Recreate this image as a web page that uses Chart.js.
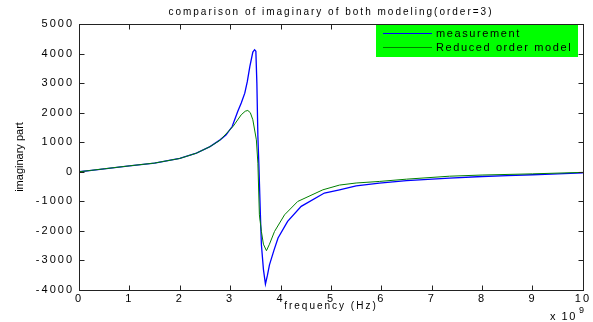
<!DOCTYPE html>
<html>
<head>
<meta charset="utf-8">
<script src="https://cdn.jsdelivr.net/npm/chart.js@4.4.0/dist/chart.umd.min.js"></script>
<style>
  body { margin: 0; background: #fff; }
  #wrap { width: 593px; height: 322px; }
</style>
</head>
<body>
<div id="wrap"><canvas id="myChart" width="593" height="322"></canvas></div>
<script>
// frequency in units of 1e9 Hz (axis shows "x 10^9")
var freqMeas = [0, 0.25, 0.5, 1.0, 1.5, 2.0, 2.33, 2.6, 2.8, 2.92, 3.04, 3.15, 3.22, 3.29, 3.34, 3.39, 3.45, 3.485, 3.51, 3.53, 3.55, 3.57, 3.60, 3.62, 3.66, 3.70, 3.74, 3.78, 3.87, 3.95, 4.14, 4.41, 4.87, 5.17, 5.5, 5.96, 6.5, 7.35, 8.0, 8.5, 9.0, 9.5, 10.0];
var imagMeas = [0, 50, 100, 200, 295, 450, 630, 850, 1080, 1250, 1530, 2040, 2330, 2660, 3050, 3560, 4050, 4130, 4080, 3000, 1200, 240, -1455, -2470, -3300, -3800, -3500, -3150, -2650, -2240, -1680, -1170, -720, -610, -480, -383, -300, -214, -160, -130, -100, -70, -40];

var freqModel = [0, 0.25, 0.5, 1.0, 1.5, 2.0, 2.33, 2.6, 2.8, 3.06, 3.22, 3.30, 3.35, 3.40, 3.45, 3.52, 3.55, 3.58, 3.62, 3.66, 3.72, 3.78, 3.88, 4.08, 4.34, 4.84, 5.17, 5.5, 5.96, 6.5, 7.35, 8.0, 9.0, 10.0];
var imagModel = [0, 50, 100, 200, 295, 450, 630, 850, 1070, 1540, 1930, 2050, 2074, 2000, 1760, 1080, 290, -1455, -2020, -2450, -2670, -2450, -2020, -1455, -1005, -610, -450, -380, -327, -250, -150, -110, -70, -20];

var seriesNames = ['measurement', 'Reduced order model'];
var seriesColors = ['#0000ff', '#008000'];
var xTicks = [0, 1, 2, 3, 4, 5, 6, 7, 8, 9, 10];
var yTicks = [-4000, -3000, -2000, -1000, 0, 1000, 2000, 3000, 4000, 5000];

function toPoints(xs, ys) {
    return xs.map((x, i) => ({x: x, y: ys[i]}));
}

// matlab style box, inward ticks, legend and extra labels
const matlabBox = {
    id: 'matlabBox',
    beforeLayout(chart) { chart.ctx.letterSpacing = '2px'; },
    beforeDraw(chart) { chart.ctx.letterSpacing = '2px'; },
    afterDraw(chart) {
        const ctx = chart.ctx;
        const a = chart.chartArea;
        const sx = chart.scales.x, sy = chart.scales.y;
        const L = Math.round(a.left) + 0.5, R = Math.round(a.right) + 0.5;
        const T = Math.round(a.top) + 0.5, B = Math.round(a.bottom) + 0.5;
        ctx.save();
        ctx.letterSpacing = '0px';
        ctx.strokeStyle = '#222';
        ctx.lineWidth = 1;
        ctx.strokeRect(L, T, R - L, B - T);
        ctx.beginPath();
        xTicks.forEach(v => {
            const px = Math.round(sx.getPixelForValue(v)) + 0.5;
            ctx.moveTo(px, B); ctx.lineTo(px, B - 5);
            ctx.moveTo(px, T); ctx.lineTo(px, T + 5);
        });
        yTicks.forEach(v => {
            const py = Math.round(sy.getPixelForValue(v)) + 0.5;
            ctx.moveTo(L, py); ctx.lineTo(L + 5, py);
            ctx.moveTo(R, py); ctx.lineTo(R - 5, py);
        });
        ctx.stroke();

        // legend
        const ds = chart.data.datasets;
        ctx.fillStyle = '#00ff00';
        ctx.fillRect(376, 25, 202, 32);
        ctx.font = '11px "Liberation Sans", Arial, sans-serif';
        ctx.textBaseline = 'middle';
        ctx.letterSpacing = '1.6px';
        [33.5, 47.5].forEach((y, i) => {
            ctx.strokeStyle = seriesColors[i];
            ctx.beginPath();
            ctx.moveTo(383, y); ctx.lineTo(432, y);
            ctx.stroke();
            ctx.fillStyle = '#000';
            ctx.fillText(ds[i].label, 436, y);
        });

        // y axis label
        ctx.letterSpacing = '0px';
        ctx.save();
        ctx.translate(20, (a.top + a.bottom) / 2);
        ctx.rotate(-Math.PI / 2);
        ctx.textAlign = 'center';
        ctx.font = '11px "Liberation Sans Narrow", "Liberation Sans", sans-serif';
        ctx.fillText('imaginary part', 0, 0);
        ctx.restore();

        // exponent label
        ctx.textAlign = 'left';
        ctx.textBaseline = 'alphabetic';
        ctx.letterSpacing = '1.5px';
        ctx.font = '11px "Liberation Sans", Arial, sans-serif';
        ctx.fillText('x 10', 550, 320);
        ctx.font = '9px "Liberation Sans", Arial, sans-serif';
        ctx.fillText('9', 579, 313);
        ctx.restore();
    }
};

const data = {
    datasets: [{
        label: seriesNames[0],
        data: toPoints(freqMeas, imagMeas),
        borderColor: seriesColors[0],
        borderWidth: 1.3,
        pointRadius: 0,
        tension: 0,
        order: 1
    }, {
        label: seriesNames[1],
        data: toPoints(freqModel, imagModel),
        borderColor: seriesColors[1],
        borderWidth: 1,
        pointRadius: 0,
        tension: 0,
        order: 0
    }]
};

const tickFont = {family: '"Liberation Sans", Arial, sans-serif', size: 11};

const config = {
    type: 'line',
    data: data,
    options: {
        responsive: false,
        animation: false,
        layout: {padding: {top: 0, right: 9, bottom: 0, left: 0}},
        scales: {
            x: {
                type: 'linear',
                min: 0,
                max: 10,
                afterBuildTicks: s => { s.ticks = xTicks.map(v => ({value: v})); },
                afterFit: s => { s.height = 32; },
                grid: {display: false, drawTicks: false},
                border: {display: false},
                ticks: {color: '#000', font: tickFont, padding: 2, maxRotation: 0, callback: v => String(v)},
                title: {
                    display: true,
                    text: 'frequency (Hz)',
                    color: '#000',
                    font: {family: '"Liberation Sans", Arial, sans-serif', size: 10},
                    padding: {top: 0, bottom: 10}
                }
            },
            y: {
                min: -4000,
                max: 5000,
                afterBuildTicks: s => { s.ticks = yTicks.map(v => ({value: v})); },
                afterFit: s => { s.width = 79; },
                grid: {display: false, drawTicks: false},
                border: {display: false},
                ticks: {color: '#000', font: tickFont, padding: 5, callback: v => String(v)}
            }
        },
        plugins: {
            legend: {display: false},
            tooltip: {enabled: false},
            title: {
                display: true,
                fullSize: false,
                text: 'comparison of imaginary of both modeling(order=3)',
                color: '#000',
                font: {family: '"Liberation Sans", Arial, sans-serif', size: 10, weight: 'normal', lineHeight: '14px'},
                padding: {top: 5, bottom: 5}
            }
        }
    },
    plugins: [matlabBox]
};

let myChart = new Chart(document.getElementById('myChart'), config);
</script>
</body>
</html>
